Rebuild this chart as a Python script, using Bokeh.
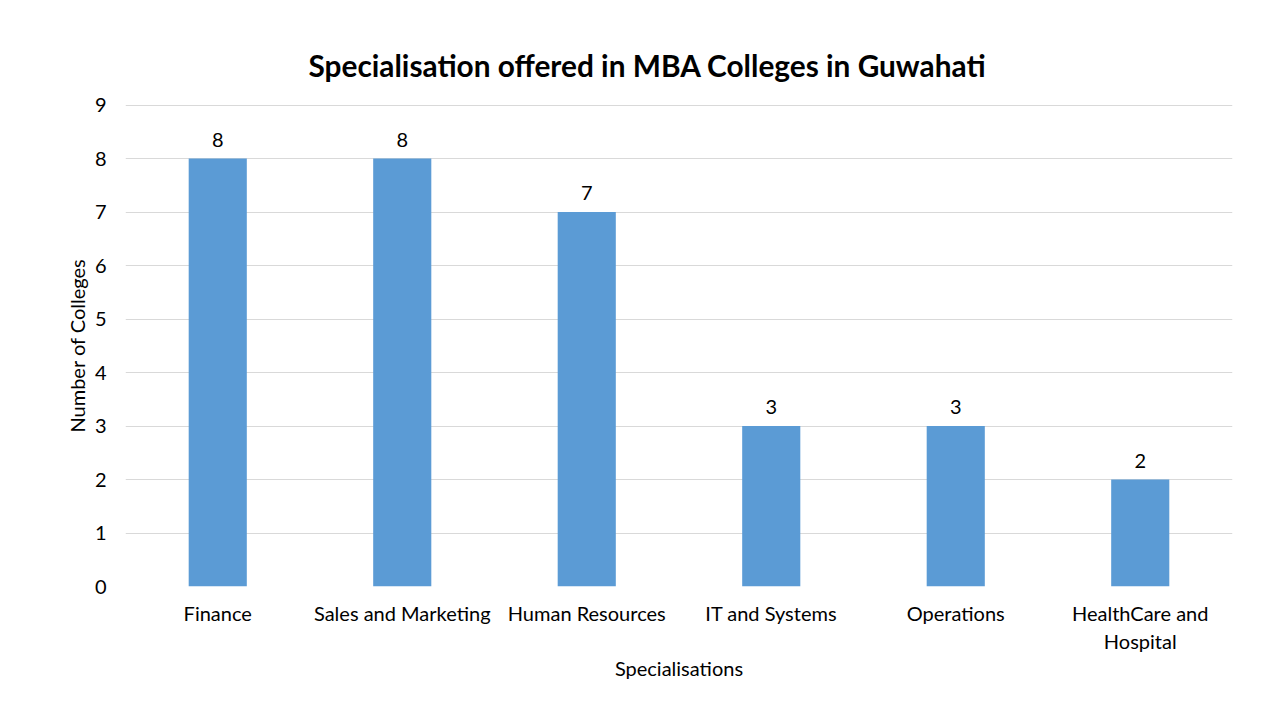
from bokeh.plotting import figure
from bokeh.models import ColumnDataSource, LabelSet, FixedTicker, Range1d
from bokeh.core.properties import value
from bokeh.embed import file_html
from bokeh.resources import INLINE

categories = ["Finance", "Sales and Marketing", "Human Resources",
              "IT and Systems", "Operations", "HealthCare and Hospital"]
tick_labels = ["Finance", "Sales and Marketing", "Human Resources",
               "IT and Systems", "Operations", "HealthCare and\nHospital"]
colleges = [8, 8, 7, 3, 3, 2]
y_ticks = [0, 1, 2, 3, 4, 5, 6, 7, 8, 9]

FONT = "Lato"
xs = list(range(len(categories)))
src = ColumnDataSource(dict(x=xs, cat=categories, val=colleges,
                            lab=[str(v) for v in colleges]))

p = figure(x_range=Range1d(-0.5, len(categories) - 0.5), y_range=Range1d(0, 9.01),
           width=1264, height=704,
           output_backend="svg", toolbar_location=None,
           min_border_left=125, min_border_right=32, min_border_top=104, min_border_bottom=118,
           title="Specialisation offered in MBA Colleges in Guwahati")
p.outline_line_color = None
p.background_fill_color = "white"
p.border_fill_color = "white"

p.title.align = "left"
p.title.offset = 183
p.title.text_font = FONT
p.title.text_font_size = "29.8px"
p.title.text_font_style = "bold"
p.title.text_color = "black"
p.title.standoff = 44

p.vbar(x="x", top="val", width=0.315, source=src, color="#5B9BD5", line_color=None)

labels = LabelSet(x="x", y="val", text="lab", source=src, y_offset=12,
                  text_align="center", text_baseline="bottom",
                  text_font=value(FONT), text_font_size=value("20px"), text_color="#000000")
p.add_layout(labels)

p.xgrid.grid_line_color = None
p.ygrid.grid_line_color = "#D9D9D9"
p.ygrid.grid_line_width = 1
p.yaxis.ticker = FixedTicker(ticks=y_ticks)
p.xaxis.ticker = FixedTicker(ticks=xs)
p.xaxis.major_label_overrides = {i: t for i, t in zip(xs, tick_labels)}

for ax in (p.xaxis, p.yaxis):
    ax.axis_line_color = None
    ax.major_tick_line_color = None
    ax.minor_tick_line_color = None
    ax.major_label_text_font = FONT
    ax.major_label_text_font_size = "20px"
    ax.major_label_text_color = "#000000"
    ax.axis_label_text_font = FONT
    ax.axis_label_text_font_size = "20px"
    ax.axis_label_text_font_style = "normal"
    ax.axis_label_text_color = "#000000"

p.xaxis.axis_label = "Specialisations"
p.yaxis.axis_label = "Number of Colleges"
p.xaxis.major_label_standoff = 8
p.xaxis.axis_label_standoff = 0
p.yaxis.major_label_standoff = 13
p.yaxis.axis_label_standoff = 3

open("out.html", "w").write(file_html(p, INLINE))
